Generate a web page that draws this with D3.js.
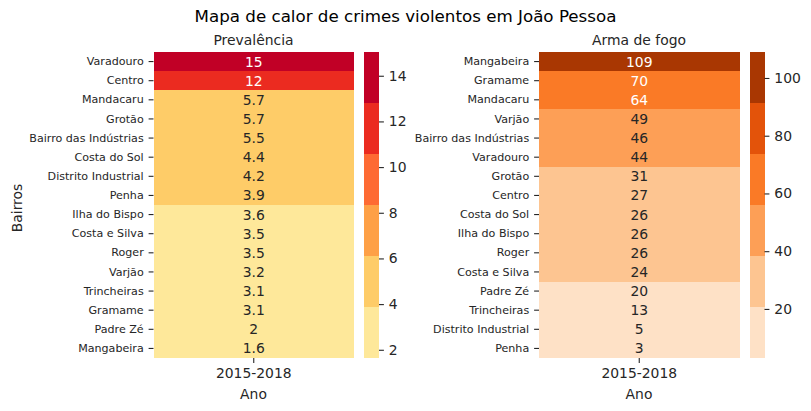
<!DOCTYPE html>
<html>
<head>
<meta charset="utf-8">
<script src="https://cdn.jsdelivr.net/npm/d3@7"></script>
<style>
  html, body { margin: 0; padding: 0; background: #fff; }
  svg { display: block; }
  text { font-family: "DejaVu Sans", sans-serif; fill: #262626; }
  rect { shape-rendering: crispEdges; }
  .domain { display: none; }
</style>
</head>
<body>
<div id="chart"></div>
<script>
// data
var years = ["2015-2018"];

var prevBairros = ["Varadouro", "Centro", "Mandacaru", "Grotão", "Bairro das Indústrias", "Costa do Sol",
  "Distrito Industrial", "Penha", "Ilha do Bispo", "Costa e Silva", "Roger", "Varjão", "Trincheiras",
  "Gramame", "Padre Zé", "Mangabeira"];
// first and last carry a second decimal, estimated from the colorbar ends
var prevValues = [15.04, 12, 5.7, 5.7, 5.5, 4.4, 4.2, 3.9, 3.6, 3.5, 3.5, 3.2, 3.1, 3.1, 2, 1.64];
var prevTicks = [2, 4, 6, 8, 10, 12, 14];
var prevColors = ["#fee89a", "#fecc68", "#fea046", "#fe6a33", "#eb2b20", "#c10026"];
var prevWhite = [15.04, 12];

var armaBairros = ["Mangabeira", "Gramame", "Mandacaru", "Varjão", "Bairro das Indústrias", "Varadouro",
  "Grotão", "Centro", "Costa do Sol", "Ilha do Bispo", "Roger", "Costa e Silva", "Padre Zé", "Trincheiras",
  "Distrito Industrial", "Penha"];
var armaValues = [109, 70, 64, 49, 46, 44, 31, 27, 26, 26, 26, 24, 20, 13, 5, 3];
var armaTicks = [20, 40, 60, 80, 100];
var armaColors = ["#fee1c6", "#fdc591", "#fd9f56", "#fa7a26", "#e3530a", "#a93702"];
var armaWhite = [109, 70, 64];

var svgWidth = 811;
var svgHeight = 411;
var plotTop = 52;
var plotBottom = 358;

var svg = d3.select("#chart")
  .append("svg")
  .attr("width", svgWidth)
  .attr("height", svgHeight);

svg.append("text")
  .attr("x", 405.5)
  .attr("y", 22)
  .attr("text-anchor", "middle")
  .attr("font-size", "16.7px")
  .style("fill", "#000")
  .text("Mapa de calor de crimes violentos em João Pessoa");

function heatmap(opts) {
  var y = d3.scaleBand().domain(opts.bairros).range([plotTop, plotBottom]);
  var x = d3.scaleBand().domain(years).range([opts.left, opts.left + 200.5]);
  var extent = d3.extent(opts.values);
  var color = d3.scaleQuantize().domain(extent).range(opts.colors);

  // cells
  svg.append("g").selectAll("rect")
    .data(opts.values)
    .enter()
    .append("rect")
    .attr("x", x(years[0]))
    .attr("y", (d, i) => y(opts.bairros[i]))
    .attr("width", x.bandwidth())
    .attr("height", y.bandwidth())
    .attr("fill", d => color(d));

  // cell labels
  svg.append("g").selectAll("text")
    .data(opts.values)
    .enter()
    .append("text")
    .attr("x", x(years[0]) + x.bandwidth() / 2)
    .attr("y", (d, i) => y(opts.bairros[i]) + y.bandwidth() / 2)
    .attr("dy", "0.36em")
    .attr("text-anchor", "middle")
    .attr("font-size", "13.9px")
    .style("fill", d => opts.white.includes(d) ? "#fff" : "#262626")
    .text(d => d3.format(opts.format)(d));

  // axes
  var leftAxis = d3.axisLeft(y).tickSize(4.9).tickPadding(4.9);
  var gl = svg.append("g")
    .attr("transform", `translate(${opts.left}, 0)`)
    .call(leftAxis);
  gl.selectAll("text").attr("font-size", "11.1px").attr("font-family", null);
  gl.selectAll("line").attr("stroke", "#262626").attr("stroke-width", 1.1);

  var bottomAxis = d3.axisBottom(x).tickSize(4.9).tickPadding(4.9);
  var gb = svg.append("g")
    .attr("transform", `translate(0, ${plotBottom})`)
    .call(bottomAxis);
  gb.selectAll("text").attr("font-size", "13.9px").attr("font-family", null);
  gb.selectAll("line").attr("stroke", "#262626").attr("stroke-width", 1.1);

  // subplot title and x label
  svg.append("text")
    .attr("x", opts.left + 100)
    .attr("y", 44.5)
    .attr("text-anchor", "middle")
    .attr("font-size", "13.9px")
    .text(opts.title);

  svg.append("text")
    .attr("x", opts.left + 100)
    .attr("y", 399)
    .attr("text-anchor", "middle")
    .attr("font-size", "13.9px")
    .text("Ano");

  // colorbar
  var barX = opts.left + 210.5;
  var barWidth = 15;
  var cbar = d3.scaleLinear().domain(extent).range([plotBottom, plotTop]);
  var steps = d3.range(opts.colors.length);

  svg.append("g").selectAll("rect")
    .data(steps)
    .enter()
    .append("rect")
    .attr("x", barX)
    .attr("y", d => cbar(color.invertExtent(opts.colors[d])[1]))
    .attr("width", barWidth)
    .attr("height", d => cbar(color.invertExtent(opts.colors[d])[0]) - cbar(color.invertExtent(opts.colors[d])[1]))
    .attr("fill", d => opts.colors[d]);

  var rightAxis = d3.axisRight(cbar).tickValues(opts.ticks).tickSize(4.9).tickPadding(4.9);
  var gr = svg.append("g")
    .attr("transform", `translate(${barX + barWidth}, 0)`)
    .call(rightAxis);
  gr.selectAll("text").attr("font-size", "13.9px").attr("font-family", null);
  gr.selectAll("line").attr("stroke", "#262626").attr("stroke-width", 1.1);
}

heatmap({
  left: 153.5, title: "Prevalência", bairros: prevBairros, values: prevValues,
  ticks: prevTicks, colors: prevColors, white: prevWhite, format: ".2~g"
});

heatmap({
  left: 539, title: "Arma de fogo", bairros: armaBairros, values: armaValues,
  ticks: armaTicks, colors: armaColors, white: armaWhite, format: "d"
});

// y label only on the left plot
svg.append("text")
  .attr("transform", "translate(21.5, 208) rotate(-90)")
  .attr("text-anchor", "middle")
  .attr("font-size", "13.9px")
  .text("Bairros");
</script>
</body>
</html>
